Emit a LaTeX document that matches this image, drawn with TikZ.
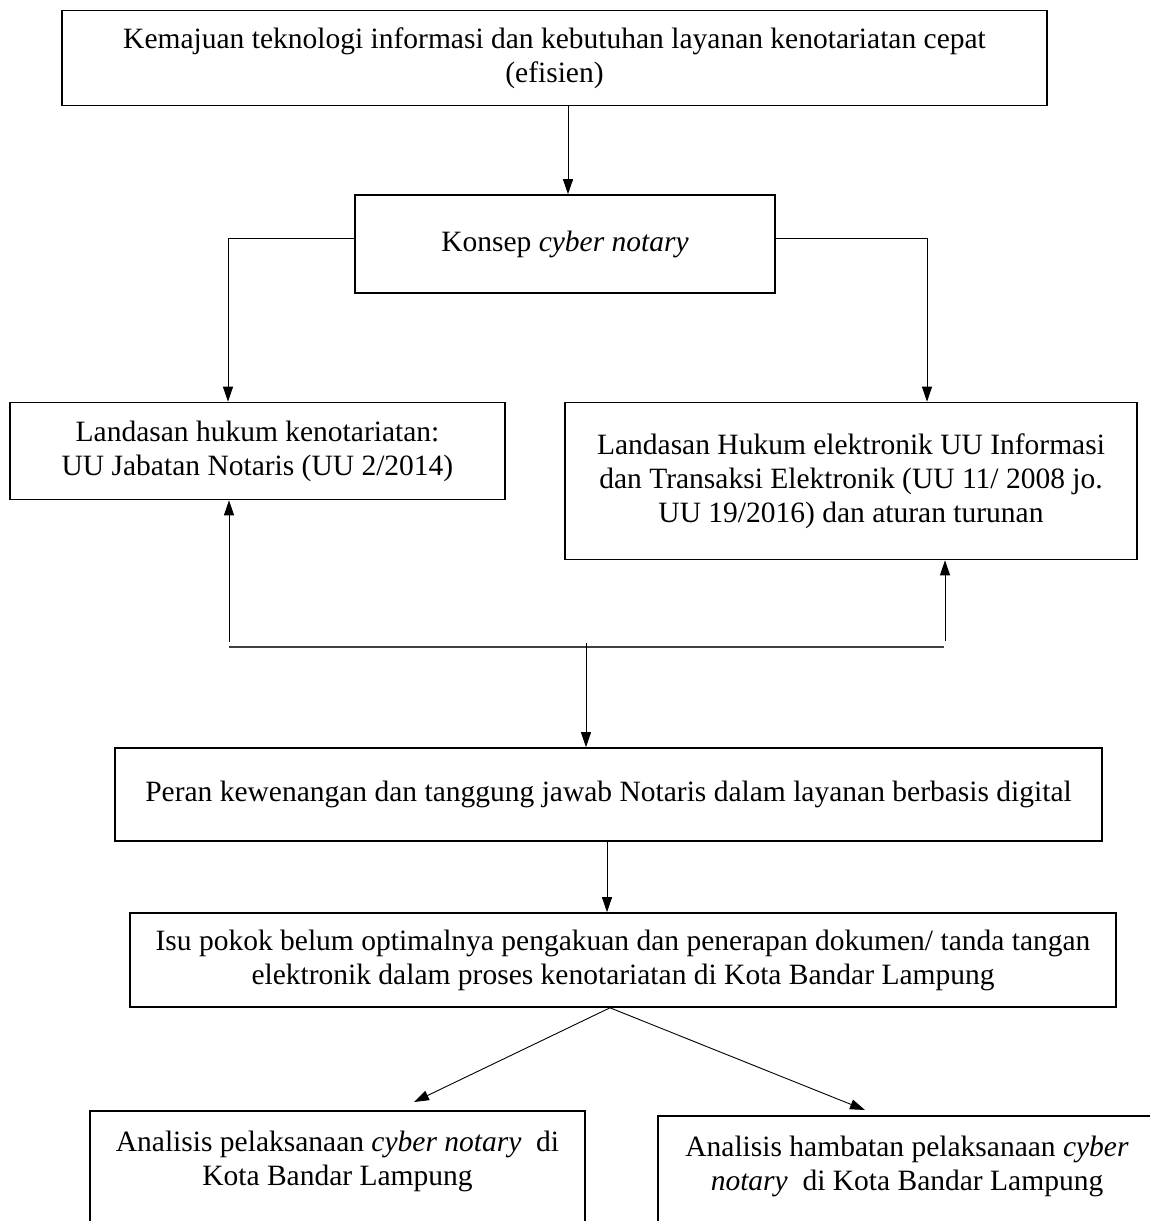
\documentclass[tikz,border=0pt]{standalone}
\usepackage{fontspec}
\setmainfont{Liberation Serif}
\usetikzlibrary{arrows.meta,calc}
\begin{document}
\begin{tikzpicture}[x=1pt,y=-1pt,
  txt/.style={inner sep=0pt,align=center,font=\fontsize{29.5}{34}\selectfont},
  box/.style={txt,draw,line width=1.6pt},
  conn/.style={line width=0.9pt},
  arr/.style={conn,-{Triangle[length=15pt,width=10pt]}}]
\clip (0,0) rectangle (1150,1221);
\fill[white] (0,0) rectangle (1150,1221);
\node[box,minimum width=985pt,minimum height=95pt] (b1) at (554.5,58) {Kemajuan teknologi informasi dan kebutuhan layanan kenotariatan cepat\\(efisien)};
\node[box,minimum width=420pt,minimum height=98pt] (b2) at (565,244) {Konsep \textit{cyber notary}};
\node[box,minimum width=495pt,minimum height=97pt] (b3) at (257.5,451) {Landasan hukum kenotariatan:\\UU Jabatan Notaris (UU 2/2014)};
\node[box,minimum width=572pt,minimum height=157pt] (b4) at (851,481) {Landasan Hukum elektronik UU Informasi\\dan Transaksi Elektronik (UU 11/ 2008 jo.\\UU 19/2016) dan aturan turunan};
\node[box,minimum width=987pt,minimum height=93pt] (b5) at (608.5,794.5) {Peran kewenangan dan tanggung jawab Notaris dalam layanan berbasis digital};
\node[box,minimum width=986pt,minimum height=94pt] (b6) at (623,960) {Isu pokok belum optimalnya pengakuan dan penerapan dokumen/ tanda tangan\\elektronik dalam proses kenotariatan di Kota Bandar Lampung};
\node[box,anchor=north,minimum width=495pt,minimum height=130pt] (b7) at (337.5,1110) {};
\node[txt] (t7) at (337.5,1161) {Analisis pelaksanaan \textit{cyber notary}\ \ di\\Kota Bandar Lampung};
\node[box,anchor=north west,minimum width=520pt,minimum height=130pt] (b8) at (657,1115) {};
\node[txt] (t8) at (907,1166) {Analisis hambatan pelaksanaan \textit{cyber}\\\textit{notary}\ \ di Kota Bandar Lampung};
% connectors
\draw[arr] (568,0 |- b1.south) -- (568,0 |- b2.north);
\coordinate (c1) at (228,238);
\coordinate (c2) at (927,238);
\draw[arr] (b2.west |- c1) -- (c1) -- (c1 |- b3.north);
\draw[arr] (b2.east |- c2) -- (c2) -- (c2 |- b4.north);
\coordinate (h1) at (229,647);
\coordinate (h2) at (944,647);
\draw[line width=1.4pt,black!75] (h1) -- (h2);
\coordinate (u1) at (229,642);
\coordinate (u2) at (945,641);
\draw[arr] (u1) -- (u1 |- b3.south);
\draw[arr] (u2) -- (u2 |- b4.south);
\coordinate (d1) at (586,643);
\draw[arr] (d1) -- (d1 |- b5.north);
\draw[arr] (607,0 |- b5.south) -- (607,0 |- b6.north);
\coordinate (s6) at (610,1007);
\coordinate (a7) at (414,1102);
\coordinate (a8) at (865,1110);
\draw[arr] (s6 |- b6.south) -- (a7);
\draw[arr] (s6 |- b6.south) -- (a8);
\end{tikzpicture}
\end{document}
